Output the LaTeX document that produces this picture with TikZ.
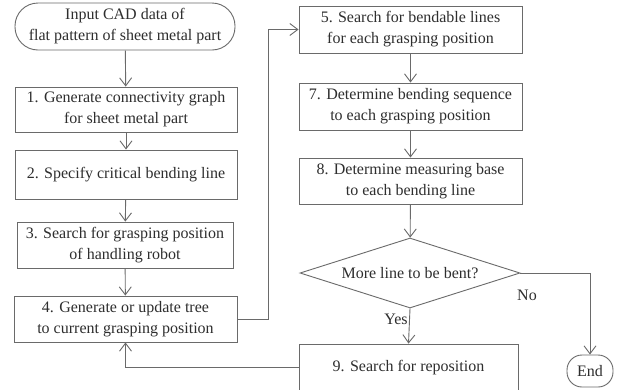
\documentclass[tikz,border=0pt]{standalone}
\usepackage{fontspec}
\setmainfont{Liberation Serif}
\usetikzlibrary{arrows.meta,shapes.geometric}
\definecolor{linec}{HTML}{6A6A6A}
\definecolor{textc}{HTML}{2E2E2E}
\tikzset{
  box/.style={draw=linec, line width=0.9pt, inner sep=0pt, align=center, text=textc,
    font=\fontsize{16}{21}\selectfont},
  term/.style={box, rounded corners=16pt},
  arr/.style={draw=linec, line width=0.9pt, -{Straight Barb[length=8pt,width=12pt,line width=0.9pt]}},
  conn/.style={draw=linec, line width=0.9pt},
  lbl/.style={text=textc, font=\fontsize{16}{21}\selectfont, inner sep=1.5pt}
}
\begin{document}
\begin{tikzpicture}[x=1pt,y=-1pt]
\useasboundingbox[fill=white] (0,0) rectangle (623,389);
% left column
\node[term, rounded corners=23pt, minimum width=220pt, minimum height=47pt] (start) at (125,26.5)
  {Input CAD data of\\flat pattern of sheet metal part};
\node[box, minimum width=222pt, minimum height=45pt] (b1) at (126,109.5)
  {1. Generate connectivity graph\\for sheet metal part};
\node[box, minimum width=222pt, minimum height=49pt] (b2) at (126,174.5)
  {2. Specify critical bending line};
\node[box, minimum width=216pt, minimum height=46pt] (b3) at (125,245)
  {3. Search for grasping position\\of handling robot};
\node[box, minimum width=223pt, minimum height=46pt] (b4) at (125.5,319)
  {4. Generate or update tree\\to current grasping position};
% right column
\node[box, minimum width=223pt, minimum height=47pt] (b5) at (410.5,29.5)
  {5. Search for bendable lines\\for each grasping position};
\node[box, minimum width=223pt, minimum height=47pt] (b7) at (410.5,106.5)
  {7. Determine bending sequence\\to each grasping position};
\node[box, minimum width=223pt, minimum height=46pt] (b8) at (410.5,181)
  {8. Determine measuring base\\to each bending line};
\node[box, shape=diamond, aspect=3.14, inner sep=1pt, minimum width=220pt, minimum height=70pt] (dia) at (410,273)
  {More line to be bent?};
\node[box, minimum width=219pt, minimum height=47pt] (b9) at (408.5,367.5)
  {9. Search for reposition};
\node[term, rounded corners=15pt, minimum width=46pt, minimum height=32pt] (end) at (590,371)
  {End};
% connectors
\draw[arr] (start) -- (b1);
\draw[arr] (b1) -- (b2);
\draw[arr] (b2) -- (b3);
\draw[arr] (b3) -- (b4);
\draw[arr] (b4.east) -- ++(31,0) |- (b5.west);
\draw[arr] (b5) -- (b7);
\draw[arr] (b7) -- (b8);
\draw[arr] (b8) -- (dia);
\draw[arr] (dia.south) -- node[lbl, pos=0.3, left] (yes) {Yes} (b9.north);
\draw[arr] (dia.east) -| (end.north);
\node[lbl] (no) at (527,295) {No};
\draw[arr] (b9.west) -| (b4.south);
\end{tikzpicture}
\end{document}
